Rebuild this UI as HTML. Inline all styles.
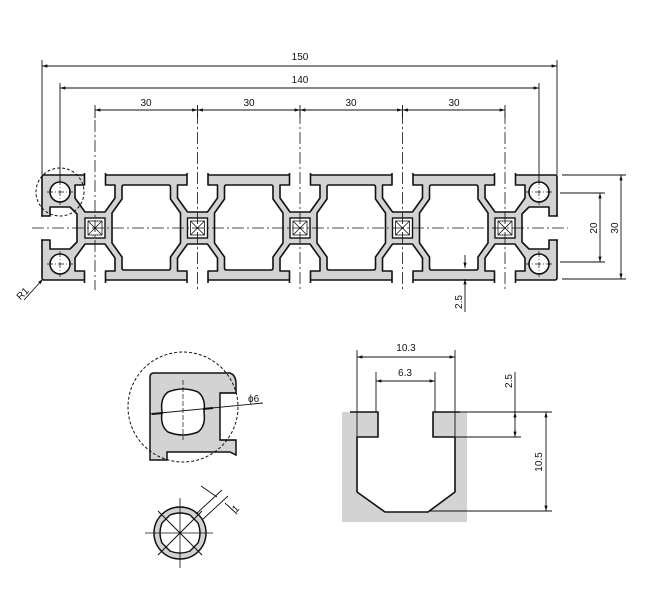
<!DOCTYPE html>
<html><head><meta charset="utf-8"><style>
html,body{margin:0;padding:0;background:#fff}
svg{display:block}
text{font-family:"Liberation Sans",sans-serif;font-size:10px;fill:#111}
</style></head><body>
<svg width="650" height="600" viewBox="0 0 650 600" xmlns="http://www.w3.org/2000/svg">
<defs>
<marker id="ar" viewBox="0 0 10 10" refX="10" refY="5" markerWidth="6" markerHeight="6" orient="auto-start-reverse"><path d="M0,2 L10,5 L0,8 Z" fill="#111"/></marker>
<g id="slot">
<path d="M-10.5,173 V185 H-20 V198 L-10,212 H10 L20,198 V185 H10.5 V173" fill="#fff" stroke="#111" stroke-width="1.6" stroke-linejoin="round"/>
</g>
<g id="node">
<use href="#slot"/>
<use href="#slot" transform="translate(0,456) scale(1,-1)"/>
<rect x="-10" y="218" width="20" height="20" fill="#fff" stroke="#111" stroke-width="1.4"/>
<rect x="-7" y="221" width="14" height="14" fill="none" stroke="#111" stroke-width="0.8"/>
<path d="M-7,221 L7,235 M7,221 L-7,235" stroke="#111" stroke-width="0.8"/>
</g>
<g id="cav">
<path d="M29,185 H73.5 Q75.5,185 75.5,187 V199 L85.5,213 V243 L75.5,257 V268 Q75.5,270 73.5,270 H29 Q27,270 27,268 V257 L17,243 V213 L27,199 V187 Q27,185 29,185 Z" fill="#fff" stroke="#111" stroke-width="1.6" stroke-linejoin="round"/>
</g>
<g id="endp">
<path d="M41,216 H50 V207 H70 L77,214 V242 L70,249 H50 V240 H41" fill="#fff" stroke="#111" stroke-width="1.6" stroke-linejoin="round"/>
<circle cx="60" cy="192" r="10" fill="#fff" stroke="#111" stroke-width="1.6"/>
<circle cx="60" cy="264" r="10" fill="#fff" stroke="#111" stroke-width="1.6"/>
<path d="M47,192 H73 M60,179 V205 M47,264 H73 M60,251 V277" stroke="#111" stroke-width="0.7" stroke-dasharray="6,2,1,2"/>
</g>
</defs>

<!-- profile -->
<rect x="42" y="175" width="515" height="105" rx="2" fill="#d3d3d3" stroke="#111" stroke-width="1.6"/>
<use href="#endp"/>
<use href="#endp" transform="translate(599,0) scale(-1,1)"/>
<use href="#node" x="95"/>
<use href="#node" x="197.5"/>
<use href="#node" x="300"/>
<use href="#node" x="402.5"/>
<use href="#node" x="505"/>
<use href="#cav" x="95"/>
<use href="#cav" x="197.5"/>
<use href="#cav" x="300"/>
<use href="#cav" x="402.5"/>

<!-- center lines -->
<g stroke="#111" stroke-width="0.8" stroke-dasharray="12,3,2,3" fill="none">
<path d="M32,228 H568"/>
<path d="M95,120 V290 M197.5,112 V290 M300,112 V290 M402.5,112 V290 M505,112 V290"/>
</g>
<circle cx="60" cy="192" r="24" fill="none" stroke="#111" stroke-width="1" stroke-dasharray="3,2"/>

<!-- top dims -->
<g stroke="#111" stroke-width="0.9" fill="none">
<path d="M42,60 V175 M557,60 V175"/>
<path d="M60,83 V182 M539,83 V182"/>
<path d="M95,105 V118 M197.5,105 V118 M300,105 V118 M402.5,105 V118 M505,105 V118"/>
<path d="M42,66 H557" marker-start="url(#ar)" marker-end="url(#ar)"/>
<path d="M60,88 H539" marker-start="url(#ar)" marker-end="url(#ar)"/>
<path d="M95,110 H197.5" marker-start="url(#ar)" marker-end="url(#ar)"/>
<path d="M197.5,110 H300" marker-start="url(#ar)" marker-end="url(#ar)"/>
<path d="M300,110 H402.5" marker-start="url(#ar)" marker-end="url(#ar)"/>
<path d="M402.5,110 H505" marker-start="url(#ar)" marker-end="url(#ar)"/>
</g>
<text x="300" y="60" text-anchor="middle">150</text>
<text x="300" y="83" text-anchor="middle">140</text>
<text x="146" y="106" text-anchor="middle">30</text>
<text x="249" y="106" text-anchor="middle">30</text>
<text x="351" y="106" text-anchor="middle">30</text>
<text x="454" y="106" text-anchor="middle">30</text>

<!-- right dims -->
<g stroke="#111" stroke-width="0.9" fill="none">
<path d="M562,175 H626 M562,279 H626 M560,193 H605 M560,262 H605"/>
<path d="M621,175 V279" marker-start="url(#ar)" marker-end="url(#ar)"/>
<path d="M600,193 V262" marker-start="url(#ar)" marker-end="url(#ar)"/>
<path d="M465,255 V268" marker-end="url(#ar)"/>
<path d="M465,279 V312" marker-start="url(#ar)"/>
<path d="M43,279 L24,300" marker-start="url(#ar)"/>
</g>
<text transform="translate(597,228) rotate(-90)" text-anchor="middle">20</text>
<text transform="translate(618,228) rotate(-90)" text-anchor="middle">30</text>
<text transform="translate(462,302) rotate(-90)" text-anchor="middle">2.5</text>
<text transform="translate(25,296) rotate(-45)" text-anchor="middle">R1</text>

<!-- detail 1 -->
<path d="M150,460 V377 Q150,373 154,373 H230 Q236,375 236,384 V393 H220 V440 H236 V455 L230,452 H167 V460 Z" fill="#d3d3d3" stroke="#111" stroke-width="1.5"/>
<path d="M220,393 H236 M220,440 H236" stroke="#111" stroke-width="1.2"/>
<path d="M168,392 Q183,386 198,392 Q206,398 204,412 Q206,426 198,432 Q183,438 168,432 Q160,426 162,412 Q160,398 168,392 Z" fill="#fff" stroke="#111" stroke-width="1.5"/>
<path d="M183,380 V440" stroke="#111" stroke-width="0.7" stroke-dasharray="5,2"/>
<path d="M150,414 L263,403" stroke="#111" stroke-width="0.9"/>
<path d="M152,414 L163,413 M203,409 L213,408" stroke="#111" stroke-width="2"/>
<circle cx="183" cy="407" r="55" fill="none" stroke="#111" stroke-width="1" stroke-dasharray="3,2"/>
<text x="248" y="402">ϕ6</text>

<!-- detail 2 -->
<circle cx="180" cy="533" r="26" fill="#d3d3d3" stroke="#111" stroke-width="1.5"/>
<path d="M170,515 Q180,511 190,515 L198,523 Q202,533 198,543 L190,551 Q180,555 170,551 L162,543 Q158,533 162,523 Z" fill="#fff" stroke="#111" stroke-width="1.4"/>
<path d="M158,511 L202,555 M202,511 L158,555" stroke="#111" stroke-width="1"/>
<path d="M145,533 H213 M180,498 V568" stroke="#111" stroke-width="0.8"/>
<path d="M196,514 L222,490 M202,520 L228,496 M201,486 L217,497 M225,503 L237,514" stroke="#111" stroke-width="0.9"/>
<text transform="translate(236,513) rotate(-45)">1</text>

<!-- detail 3 -->
<rect x="342" y="412" width="125" height="110" fill="#d3d3d3"/>
<path d="M378,410 V437 H357 V492 L385,512 H428 L455,492 V437 H433 V410 Z" fill="#fff"/>
<path d="M350,412 H378 V437 H357 V492 L385,512 H428 L455,492 V437 H433 V412 H460" fill="none" stroke="#111" stroke-width="1.6" stroke-linejoin="round"/>
<g stroke="#111" stroke-width="0.9" fill="none">
<path d="M357,350 V437 M455,350 V437 M376,372 V412 M435,372 V412"/>
<path d="M460,412 H552 M455,437 H521 M430,511 H552"/>
<path d="M357,357 H455" marker-start="url(#ar)" marker-end="url(#ar)"/>
<path d="M376,381 H435" marker-start="url(#ar)" marker-end="url(#ar)"/>
<path d="M515,372 V437"/>
<path d="M515,420 V412" marker-end="url(#ar)"/>
<path d="M515,428 V437" marker-end="url(#ar)"/>
<path d="M546,412 V511" marker-start="url(#ar)" marker-end="url(#ar)"/>
</g>
<text x="406" y="351" text-anchor="middle">10.3</text>
<text x="405" y="376" text-anchor="middle">6.3</text>
<text transform="translate(512,381) rotate(-90)" text-anchor="middle">2.5</text>
<text transform="translate(542,462) rotate(-90)" text-anchor="middle">10.5</text>
</svg>
</body></html>
